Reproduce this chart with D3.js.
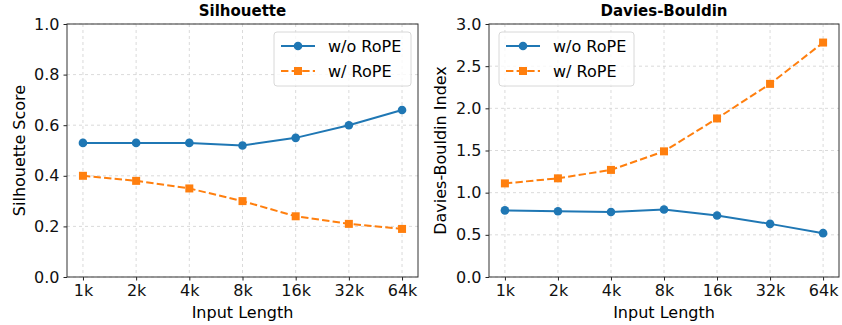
<!DOCTYPE html>
<html>
<head>
<meta charset="utf-8">
<script src="https://cdn.jsdelivr.net/npm/d3@7"></script>
<style>
body{margin:0;background:#fff}
svg{display:block;font-family:"DejaVu Sans",sans-serif}
</style>
</head>
<body>
<script>
// input lengths
var lengths = ["1k","2k","4k","8k","16k","32k","64k"]
var seriesNames = ["w/o RoPE","w/ RoPE"]

var silNoRope = [0.53,0.53,0.53,0.52,0.55,0.60,0.66]
var silRope = [0.40,0.38,0.35,0.30,0.24,0.21,0.19]
var silTicks = [0.0,0.2,0.4,0.6,0.8,1.0]

var dbNoRope = [0.79,0.78,0.77,0.80,0.73,0.63,0.52]
var dbRope = [1.11,1.17,1.27,1.49,1.88,2.29,2.78]
var dbTicks = [0.0,0.5,1.0,1.5,2.0,2.5,3.0]

var blue="#1f77b4", orange="#ff7f0e"
var fs=16

var svg=d3.select("body").append("svg").attr("width",842).attr("height",325)

function panel(opt)
{
	var left=opt.left, right=opt.right, top=24, bottom=277
	var g=svg.append("g")

	// matplotlib margins: 5% of the data span each side
	var pad=0.05*(right-left)/1.1
	var x=d3.scalePoint().domain(lengths).range([left+pad, right-pad])
	var y=d3.scaleLinear().domain(opt.domain).range([bottom,top])

	// grid
	g.append("g").selectAll("line").data(lengths).enter().append("line")
		.attr("x1",function(d){return x(d)}).attr("x2",function(d){return x(d)})
		.attr("y1",top).attr("y2",bottom)
		.attr("stroke","#d0d0d0").attr("stroke-width",0.8).attr("stroke-dasharray","3,3")
	g.append("g").selectAll("line").data(opt.ticks).enter().append("line")
		.attr("y1",function(d){return y(d)}).attr("y2",function(d){return y(d)})
		.attr("x1",left).attr("x2",right)
		.attr("stroke","#d0d0d0").attr("stroke-width",0.8).attr("stroke-dasharray","3,3")

	var xAxis=d3.axisBottom(x).tickSize(3.5).tickPadding(4)
	var yAxis=d3.axisLeft(y).tickValues(opt.ticks).tickFormat(d3.format(".1f")).tickSize(3.5).tickPadding(4)

	var gx=g.append("g").attr("transform","translate(0,"+bottom+")").call(xAxis)
	var gy=g.append("g").attr("transform","translate("+left+",0)").call(yAxis)
	;[gx,gy].forEach(function(a){
		a.select(".domain").remove()
		a.attr("font-size",fs).attr("font-family","DejaVu Sans")
		a.selectAll("text").attr("fill","#111")
		a.selectAll("line").attr("stroke","#222")
	})

	g.append("rect").attr("x",left).attr("y",top).attr("width",right-left).attr("height",bottom-top)
		.attr("fill","none").attr("stroke","#333").attr("stroke-width",1)

	var line=d3.line().x(function(d,i){return x(lengths[i])}).y(function(d){return y(d)})

	g.append("path").datum(opt.a).attr("d",line).attr("fill","none").attr("stroke",blue).attr("stroke-width",2)
	g.append("g").selectAll("circle").data(opt.a).enter().append("circle")
		.attr("cx",function(d,i){return x(lengths[i])}).attr("cy",function(d){return y(d)})
		.attr("r",4.3).attr("fill",blue)

	g.append("path").datum(opt.b).attr("d",line).attr("fill","none").attr("stroke",orange)
		.attr("stroke-width",2).attr("stroke-dasharray","7.4,3.2")
	g.append("g").selectAll("rect").data(opt.b).enter().append("rect")
		.attr("x",function(d,i){return x(lengths[i])-4}).attr("y",function(d){return y(d)-4})
		.attr("width",8).attr("height",8).attr("fill",orange)

	// title & labels
	g.append("text").attr("x",(left+right)/2).attr("y",16).attr("text-anchor","middle")
		.attr("font-size",15).attr("font-weight","bold").text(opt.title)
	g.append("text").attr("x",(left+right)/2).attr("y",318).attr("text-anchor","middle")
		.attr("font-size",fs).text("Input Length")
	g.append("text").attr("transform","translate("+(opt.ylabX)+","+((top+bottom)/2)+") rotate(-90)")
		.attr("text-anchor","middle").attr("font-size",fs).text(opt.ylabel)

	// legend
	var lx=opt.legX, ly=32
	var leg=g.append("g").attr("transform","translate("+lx+","+ly+")")
	leg.append("rect").attr("width",opt.legW).attr("height",54).attr("rx",3)
		.attr("fill","white").attr("fill-opacity",0.8).attr("stroke","#d8d8d8")
	var rows=[{c:blue,dash:null,m:"c"},{c:orange,dash:"7.4,3.2",m:"s"}]
	rows.forEach(function(r,i){
		var yy=14+i*25
		leg.append("line").attr("x1",7).attr("x2",41).attr("y1",yy).attr("y2",yy)
			.attr("stroke",r.c).attr("stroke-width",2).attr("stroke-dasharray",r.dash)
		if(r.m=="c") leg.append("circle").attr("cx",24).attr("cy",yy).attr("r",4.3).attr("fill",r.c)
		else leg.append("rect").attr("x",20).attr("y",yy-4).attr("width",8).attr("height",8).attr("fill",r.c)
		leg.append("text").attr("x",54).attr("y",yy+6).attr("font-size",fs).text(seriesNames[i])
	})
}

panel({left:67,right:418,domain:[0,1],ticks:silTicks,a:silNoRope,b:silRope,title:"Silhouette",
	ylabel:"Silhouette Score",ylabX:24.5,legX:274,legW:137})
panel({left:489,right:839,domain:[0,3],ticks:dbTicks,a:dbNoRope,b:dbRope,title:"Davies-Bouldin",
	ylabel:"Davies-Bouldin Index",ylabX:445.5,legX:499,legW:135})
</script>
</body>
</html>
